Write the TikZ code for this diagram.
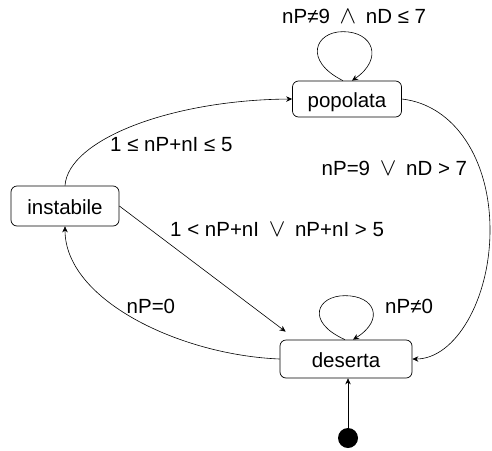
\documentclass[tikz,border=0pt]{standalone}
\usepackage{fontspec}
\setmainfont{Liberation Sans}
\usetikzlibrary{arrows.meta}
\newcommand{\logsym}[1]{\hspace{4pt}{\fontsize{26}{28}\selectfont$#1$}\hspace{4pt}}

\begin{document}
\begin{tikzpicture}[x=1pt,y=-1pt,
  state/.style={draw, rounded corners=6pt, line width=0.7pt, inner sep=0pt,
    text height=18pt, text depth=2pt, font=\fontsize{20.5}{24}\selectfont},
  guard/.style={anchor=base west, inner sep=0pt, font=\fontsize{20.5}{24}\selectfont},
  trans/.style={line width=0.6pt, -{Stealth[length=6pt,width=5.5pt]}}]
\useasboundingbox (0,0) rectangle (492,450);

% states
\node[state, minimum width=109pt, minimum height=36pt] (pop) at (347,99) {popolata};
\node[state, minimum width=108pt, minimum height=40pt] (ins) at (65,206) {instabile};
\node[state, minimum width=132pt, minimum height=38pt] (des) at (346,359) {deserta};
\node[circle, fill, minimum size=20pt, inner sep=0pt] (init) at (348,438) {};

% transitions
\draw[trans] ([xshift=-4pt]pop.north) .. controls +(-40,-20) and +(-28,0) .. ++(0,-49)
  .. controls +(30,0) and +(32,-22) .. ([xshift=5pt]pop.north);
\draw[trans] ([xshift=-1pt]des.north) .. controls +(-40,-18) and +(-28,0) .. ++(0,-44)
  .. controls +(30,0) and +(32,-20) .. ([xshift=7pt]des.north);
\draw[trans] (ins.north) .. controls (68,140) and (170,100) .. (pop.west);
\draw[trans] (pop.east) .. controls (455,105) and (490,160) .. (490,230)
  .. controls (490,300) and (455,359) .. (des.east);
\draw[trans] (ins.east) -- ([shift={(6,-8)}]des.north west);
\draw[trans] (des.west) .. controls (180,355) and (65,300) .. (ins.south);
\draw[trans] (init.north) -- (init.north |- des.south);

% guards
\node[guard] (gPop) at (282,23.5) {nP≠9 \logsym{\wedge} nD ≤ 7};
\node[guard] (gIP) at (110,151.5) {1 ≤ nP+nI ≤ 5};
\node[guard] (gPD) at (321.5,175) {nP=9 \logsym{\vee} nD > 7};
\node[guard] (gID) at (170,236.5) {1 < nP+nI \logsym{\vee} nP+nI > 5};
\node[guard] (gDI) at (126.5,313) {nP=0};
\node[guard] (gDD) at (385,313) {nP≠0};
\end{tikzpicture}
\end{document}
